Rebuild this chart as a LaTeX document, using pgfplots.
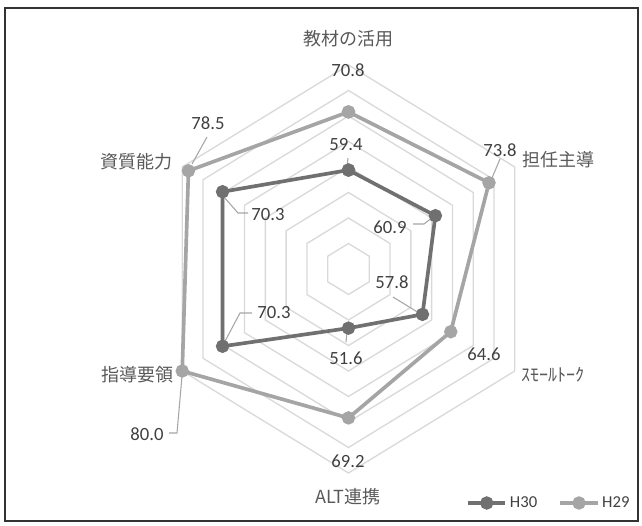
\documentclass[border=0pt]{standalone}
\usepackage{pgfplots}
\pgfplotsset{compat=1.18}
\usepackage{pgfplotstable}
\usepackage{fontspec}
\setmainfont{Carlito}
\newfontfamily\jp{Noto Sans CJK JP}
\definecolor{dk}{HTML}{707070}
\definecolor{lt}{HTML}{A5A5A5}
\definecolor{gridc}{HTML}{D9D9D9}
\definecolor{txt}{HTML}{404040}
\definecolor{cattxt}{HTML}{595959}
\definecolor{lead}{HTML}{A6A6A6}

\pgfplotstableread{
ang v
90 59.4
30 60.9
-30 57.8
-90 51.6
210 70.3
150 70.3
90 59.4
}\hthirty
\pgfplotstableread{
ang v
90 70.8
30 73.8
-30 64.6
-90 69.2
210 80.0
150 78.5
90 70.8
}\htwentynine

\tikzset{
  num/.style={text=txt, inner sep=0pt, font=\fontsize{14}{16}\selectfont},
  cat/.style={text=cattxt, inner sep=0pt, font=\jp\fontsize{13.5}{16}\selectfont},
  ld/.style={lead, line width=0.8pt},
}

\begin{document}
\begin{tikzpicture}
\begin{axis}[
  x=0.75pt, y=0.75pt,
  xmin=0, xmax=642, ymin=-525, ymax=0,
  hide axis, clip=false,
  legend columns=2,
  legend style={at={(axis cs:466,-503)}, anchor=west, draw=none, fill=none,
    font=\fontsize{12.5}{14}\selectfont, text=txt, inner sep=0pt,
    /tikz/every even column/.append style={column sep=14pt}},
  legend image code/.code={\draw[#1, mark repeat=2, mark phase=2] plot coordinates {(0pt,0pt) (14pt,0pt) (28pt,0pt)};},
]
\path (axis cs:0,0) rectangle (axis cs:642,-525);
\draw[color=black!80, line width=1.2pt] (axis cs:5,-8) rectangle (axis cs:638,-521);
\pgfplotsinvokeforeach{1,...,8}{
  \draw[gridc, line width=1pt]
    (axis cs:348.5,{-269+204*#1/8})
 -- (axis cs:{348.5+192*#1/8*0.8660254},{-269+204*#1/8*0.5})
 -- (axis cs:{348.5+192*#1/8*0.8660254},{-269-204*#1/8*0.5})
 -- (axis cs:348.5,{-269-204*#1/8})
 -- (axis cs:{348.5-192*#1/8*0.8660254},{-269-204*#1/8*0.5})
 -- (axis cs:{348.5-192*#1/8*0.8660254},{-269+204*#1/8*0.5})
 -- cycle;
}

\addplot[dk, line width=2.75pt, mark=*, mark size=3.6pt, mark options={solid}]
  table[x expr={348.5+192*(\thisrow{v}-40)/40*cos(\thisrow{ang})},
        y expr={-269+204*(\thisrow{v}-40)/40*sin(\thisrow{ang})}] {\hthirty};
\addlegendentry{H30}
\addplot[lt, line width=2.75pt, mark=*, mark size=3.6pt, mark options={solid}]
  table[x expr={348.5+192*(\thisrow{v}-40)/40*cos(\thisrow{ang})},
        y expr={-269+204*(\thisrow{v}-40)/40*sin(\thisrow{ang})}] {\htwentynine};
\addlegendentry{H29}

% leader lines
\draw[ld] (axis cs:348,-158) -- (axis cs:347,-167);
\draw[ld] (axis cs:207,-137) -- (axis cs:192,-164);
\draw[ld] (axis cs:224,-197) -- (axis cs:238,-213) -- (axis cs:248,-213);
\draw[ld] (axis cs:500,-159) -- (axis cs:492,-178);
\draw[ld] (axis cs:413,-224) -- (axis cs:424,-224) -- (axis cs:433,-217);
\draw[ld] (axis cs:393,-297) -- (axis cs:419,-313);
\draw[ld] (axis cs:347,-332) -- (axis cs:346,-342);
\draw[ld] (axis cs:223,-345) -- (axis cs:240,-313) -- (axis cs:252,-313);
\draw[ld] (axis cs:182,-376) -- (axis cs:177,-433) -- (axis cs:169,-433);

% value labels
\node[num] at (axis cs:348,-70) {70.8};
\node[num] at (axis cs:346,-145) {59.4};
\node[num] at (axis cs:208,-123) {78.5};
\node[num] at (axis cs:268,-215) {70.3};
\node[num] at (axis cs:500,-150) {73.8};
\node[num] at (axis cs:390,-227) {60.9};
\node[num] at (axis cs:392,-282) {57.8};
\node[num] at (axis cs:484,-354) {64.6};
\node[num] at (axis cs:346,-358) {51.6};
\node[num] at (axis cs:274,-313) {70.3};
\node[num] at (axis cs:348,-461) {69.2};
\node[num] at (axis cs:147,-434) {80.0};

% category labels
\node[cat] at (axis cs:348,-38.5) {教材の活用};
\node[cat] at (axis cs:558,-160) {担任主導};
\node[cat] at (axis cs:553,-375) {ｽﾓｰﾙﾄｰｸ};
\node[cat] at (axis cs:348,-497) {ALT連携};
\node[cat] at (axis cs:137,-375) {指導要領};
\node[cat] at (axis cs:136,-162) {資質能力};
\end{axis}
\end{tikzpicture}
\end{document}
